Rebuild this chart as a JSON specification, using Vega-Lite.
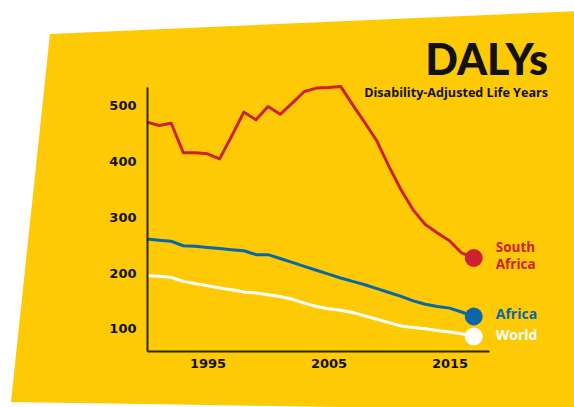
{
  "$schema": "https://vega.github.io/schema/vega-lite/v6.json",
  "width": 342,
  "height": 264,
  "autosize": "none",
  "padding": {"left": 147, "top": 87, "right": 85, "bottom": 56},
  "background": "#ffffff",
  "config": {"view": {"stroke": null}, "font": "Open Sans"},
  "title": {
    "text": "DALYs",
    "subtitle": "Disability-Adjusted Life Years",
    "anchor": "end",
    "orient": "top",
    "frame": "group",
    "dx": 59,
    "offset": -90,
    "font": "Lato",
    "fontSize": 43,
    "fontWeight": 900,
    "color": "#111111",
    "subtitleFont": "Open Sans",
    "subtitleFontSize": 12.6,
    "subtitleFontWeight": "bold",
    "subtitleColor": "#111111",
    "subtitlePadding": 3,
    "zindex": 1
  },
  "datasets": {
    "shape": [
      {"i": 0, "year": 1981.98, "value": 629.2},
      {"i": 1, "year": 2027.44, "value": 672.2},
      {"i": 2, "year": 2027.44, "value": -47.7},
      {"i": 3, "year": 1978.76, "value": -31.5}
    ],
    "series": [
      {"year": 1990, "South Africa": 471, "Africa": 261, "World": 195},
      {"year": 1991, "South Africa": 465, "Africa": 259, "World": 194},
      {"year": 1992, "South Africa": 469, "Africa": 257, "World": 192},
      {"year": 1993, "South Africa": 416, "Africa": 249, "World": 185},
      {"year": 1994, "South Africa": 416, "Africa": 248, "World": 181},
      {"year": 1995, "South Africa": 414, "Africa": 246, "World": 177},
      {"year": 1996, "South Africa": 405, "Africa": 244, "World": 173},
      {"year": 1997, "South Africa": 446, "Africa": 242, "World": 170},
      {"year": 1998, "South Africa": 489, "Africa": 240, "World": 166},
      {"year": 1999, "South Africa": 475, "Africa": 233, "World": 164},
      {"year": 2000, "South Africa": 499, "Africa": 233, "World": 161},
      {"year": 2001, "South Africa": 485, "Africa": 226, "World": 158},
      {"year": 2002, "South Africa": 505, "Africa": 219, "World": 153},
      {"year": 2003, "South Africa": 526, "Africa": 212, "World": 146},
      {"year": 2004, "South Africa": 532, "Africa": 205, "World": 140},
      {"year": 2005, "South Africa": 533, "Africa": 198, "World": 136},
      {"year": 2006, "South Africa": 535, "Africa": 191, "World": 133},
      {"year": 2007, "South Africa": 502, "Africa": 185, "World": 129},
      {"year": 2008, "South Africa": 470, "Africa": 179, "World": 123},
      {"year": 2009, "South Africa": 437, "Africa": 172, "World": 117},
      {"year": 2010, "South Africa": 391, "Africa": 165, "World": 111},
      {"year": 2011, "South Africa": 349, "Africa": 158, "World": 105},
      {"year": 2012, "South Africa": 313, "Africa": 150, "World": 102},
      {"year": 2013, "South Africa": 287, "Africa": 144, "World": 100},
      {"year": 2014, "South Africa": 272, "Africa": 140, "World": 97},
      {"year": 2015, "South Africa": 258, "Africa": 137, "World": 94},
      {"year": 2016, "South Africa": 236, "Africa": 130, "World": 91},
      {"year": 2017, "South Africa": 227, "Africa": 122, "World": 86}
    ]
  },
  "encoding": {
    "x": {
      "field": "year",
      "type": "quantitative",
      "scale": {"domain": [1990, 2018.26], "nice": false, "zero": false},
      "axis": {
        "title": null,
        "values": [1995, 2005, 2015],
        "format": "d",
        "grid": false,
        "ticks": false,
        "labelFont": "DejaVu Sans",
        "labelFontSize": 13,
        "labelFontWeight": "bold",
        "labelColor": "#111111",
        "labelPadding": 6,
        "domainColor": "#2a2400",
        "domainWidth": 2,
        "zindex": 1
      }
    },
    "y": {
      "field": "value",
      "type": "quantitative",
      "scale": {"domain": [60, 534], "nice": false, "zero": false},
      "axis": {
        "title": null,
        "values": [100, 200, 300, 400, 500],
        "grid": false,
        "ticks": false,
        "labelFont": "DejaVu Sans",
        "labelFontSize": 13,
        "labelFontWeight": "bold",
        "labelColor": "#111111",
        "labelPadding": 11,
        "domainColor": "#2a2400",
        "domainWidth": 2,
        "zindex": 1
      }
    }
  },
  "layer": [
    {
      "data": {"name": "shape"},
      "mark": {"type": "line", "interpolate": "linear-closed", "fill": "#FECA05", "stroke": "#FECA05", "strokeWidth": 0, "clip": false},
      "encoding": {"order": {"field": "i", "type": "quantitative"}}
    },
    {
      "data": {"name": "series"},
      "transform": [{"fold": ["South Africa", "Africa", "World"], "as": ["region", "value"]}],
      "mark": {"type": "line", "strokeWidth": 3, "strokeJoin": "round"},
      "encoding": {
        "color": {"field": "region", "type": "nominal", "scale": {"domain": ["South Africa", "Africa", "World"], "range": ["#CC2131", "#0A67A6", "#FFFFFF"]}, "legend": null}
      }
    },
    {
      "data": {"name": "series"},
      "transform": [{"fold": ["South Africa", "Africa", "World"], "as": ["region", "value"]}, {"filter": "datum.year == 2017"}],
      "mark": {"type": "circle", "size": 320, "opacity": 1},
      "encoding": {
        "color": {"field": "region", "type": "nominal", "scale": {"domain": ["South Africa", "Africa", "World"], "range": ["#CC2131", "#0A67A6", "#FFFFFF"]}, "legend": null}
      }
    },
    {
      "data": {"name": "series"},
      "transform": [{"fold": ["South Africa", "Africa", "World"], "as": ["region", "value"]}, {"filter": "datum.year == 2017 && datum.region != 'South Africa'"}],
      "mark": {"type": "text", "align": "left", "baseline": "middle", "dx": 22, "dy": -1, "font": "Open Sans", "fontSize": 14, "fontWeight": "bold"},
      "encoding": {
        "text": {"field": "region"},
        "color": {"field": "region", "type": "nominal", "scale": {"domain": ["South Africa", "Africa", "World"], "range": ["#CC2131", "#0A67A6", "#FFFFFF"]}, "legend": null}
      }
    },
    {
      "data": {"name": "series"},
      "transform": [{"fold": ["South Africa", "Africa", "World"], "as": ["region", "value"]}, {"filter": "datum.year == 2017 && datum.region == 'South Africa'"}],
      "mark": {"type": "text", "align": "left", "baseline": "middle", "dx": 22, "dy": -9.5, "font": "Open Sans", "fontSize": 13.5, "fontWeight": "bold", "lineBreak": " ", "lineHeight": 16.5},
      "encoding": {
        "text": {"field": "region"},
        "color": {"field": "region", "type": "nominal", "scale": {"domain": ["South Africa", "Africa", "World"], "range": ["#CC2131", "#0A67A6", "#FFFFFF"]}, "legend": null}
      }
    }
  ]
}
